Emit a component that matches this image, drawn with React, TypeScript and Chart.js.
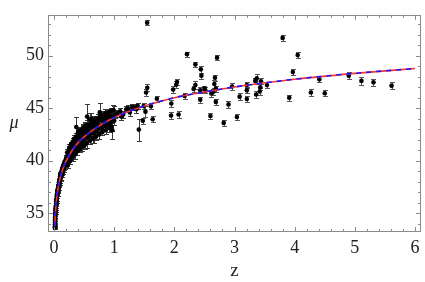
import { useEffect, useRef } from "react";
import { Chart, registerables } from "chart.js";

Chart.register(...registerables);

// model curve
const modelZ = [0.013, 0.02, 0.03, 0.05, 0.07, 0.1, 0.15, 0.2, 0.3, 0.4, 0.5, 0.7, 1.0, 1.5, 2.0, 2.5, 3.0, 4.0, 5.0, 6.0];
const modelMu = [33.74, 34.68, 35.56, 36.68, 37.43, 38.31, 39.26, 39.96, 40.97, 41.72, 42.26, 43.12, 44.1, 45.2, 46.0, 46.54, 47.02, 47.76, 48.32, 48.78];

// supernovae, low z
const sneZLow = [0.012, 0.014, 0.015, 0.016, 0.017, 0.019, 0.02, 0.021, 0.023, 0.024, 0.026, 0.027, 0.029, 0.03, 0.032, 0.034, 0.036, 0.038, 0.04, 0.043, 0.045, 0.048, 0.05, 0.053, 0.055, 0.058, 0.06, 0.063, 0.066, 0.07, 0.073, 0.076, 0.08, 0.084, 0.088, 0.092, 0.096, 0.1, 0.1];
const sneMuLow = [33.6, 33.9, 33.7, 34.3, 34.1, 34.6, 34.4, 34.9, 35.0, 35.3, 35.1, 35.5, 35.3, 35.7, 35.6, 35.9, 36.1, 35.9, 36.3, 36.2, 36.6, 36.4, 36.8, 36.9, 37.1, 36.8, 37.2, 37.3, 37.1, 37.5, 37.6, 37.4, 37.9, 37.7, 38.1, 37.9, 38.3, 38.1, 38.5];
const sneErrLow = [0.15, 0.2, 0.15, 0.2, 0.15, 0.2, 0.15, 0.2, 0.15, 0.2, 0.15, 0.2, 0.15, 0.2, 0.15, 0.2, 0.15, 0.2, 0.15, 0.2, 0.15, 0.2, 0.15, 0.2, 0.15, 0.2, 0.15, 0.2, 0.15, 0.2, 0.15, 0.2, 0.15, 0.2, 0.15, 0.2, 0.15, 0.2, 0.15];

// supernovae, 0.1 - 0.5
const sneZMid = [0.105, 0.11, 0.115, 0.12, 0.125, 0.13, 0.135, 0.14, 0.145, 0.15, 0.155, 0.16, 0.165, 0.17, 0.175, 0.18, 0.185, 0.19, 0.195, 0.2, 0.205, 0.21, 0.215, 0.22, 0.23, 0.235, 0.24, 0.25, 0.255, 0.26, 0.27, 0.275, 0.28, 0.29, 0.3, 0.305, 0.31, 0.32, 0.33, 0.335, 0.34, 0.35, 0.36, 0.365, 0.37, 0.38, 0.39, 0.4, 0.41, 0.42, 0.43, 0.44, 0.45, 0.46, 0.47, 0.48, 0.49, 0.5];
const sneMuMid = [38.7, 38.3, 38.8, 38.5, 39.0, 38.7, 39.2, 38.9, 39.4, 39.0, 39.5, 39.2, 39.7, 39.4, 39.9, 39.5, 39.9, 39.6, 40.1, 39.8, 40.3, 39.8, 40.3, 40.0, 40.6, 40.1, 40.7, 40.2, 40.8, 40.4, 40.9, 40.5, 41.1, 40.6, 41.3, 40.8, 41.4, 40.9, 41.6, 41.0, 41.5, 41.1, 41.9, 41.2, 41.8, 41.3, 42.1, 41.4, 42.2, 41.6, 42.3, 41.7, 42.5, 41.8, 42.4, 41.9, 42.6, 42.0];
const sneErrMid = [0.2, 0.25, 0.2, 0.3, 0.2, 0.25, 0.2, 0.3, 0.2, 0.25, 0.2, 0.3, 0.2, 0.25, 0.2, 0.3, 0.2, 0.25, 0.2, 0.3, 0.25, 0.3, 0.25, 0.3, 0.25, 0.3, 0.25, 0.3, 0.25, 0.3, 0.25, 0.3, 0.25, 0.3, 0.25, 0.35, 0.25, 0.35, 0.25, 0.35, 0.25, 0.35, 0.3, 0.35, 0.3, 0.35, 0.3, 0.35, 0.3, 0.35, 0.3, 0.35, 0.3, 0.4, 0.3, 0.4, 0.3, 0.4];

// supernovae, 0.5 - 1.0
const sneZHigh = [0.51, 0.52, 0.53, 0.54, 0.55, 0.56, 0.57, 0.58, 0.59, 0.6, 0.61, 0.62, 0.63, 0.64, 0.65, 0.66, 0.67, 0.68, 0.69, 0.7, 0.71, 0.72, 0.73, 0.74, 0.75, 0.77, 0.78, 0.8, 0.81, 0.82, 0.84, 0.85, 0.87, 0.88, 0.9, 0.92, 0.93, 0.95, 0.98, 1.0, 1.02];
const sneMuHigh = [42.6, 42.1, 42.9, 42.3, 42.8, 42.2, 43.0, 42.5, 43.2, 42.4, 43.1, 42.6, 43.3, 42.7, 43.4, 42.6, 43.3, 42.9, 43.6, 42.8, 43.5, 43.0, 43.7, 43.1, 43.8, 43.2, 43.9, 43.1, 43.8, 43.4, 44.0, 43.3, 44.1, 43.5, 44.3, 43.5, 44.2, 43.7, 44.3, 43.8, 44.4];
const sneErrHigh = [0.3, 0.35, 0.3, 0.4, 0.3, 0.35, 0.3, 0.4, 0.3, 0.35, 0.3, 0.4, 0.3, 0.35, 0.3, 0.4, 0.3, 0.35, 0.3, 0.4, 0.3, 0.35, 0.3, 0.4, 0.3, 0.35, 0.3, 0.4, 0.3, 0.35, 0.3, 0.4, 0.3, 0.35, 0.3, 0.4, 0.3, 0.35, 0.3, 0.4, 0.3];

// supernovae, outer edges of the band (0.2 - 1.0)
const sneZWide = [0.22, 0.25, 0.28, 0.31, 0.34, 0.37, 0.4, 0.43, 0.46, 0.49, 0.52, 0.55, 0.58, 0.61, 0.64, 0.67, 0.7, 0.73, 0.76, 0.79, 0.82, 0.86, 0.9, 0.94, 0.99, 0.23, 0.27, 0.31, 0.35, 0.39, 0.43, 0.47, 0.51, 0.55, 0.6, 0.65, 0.7, 0.75, 0.8, 0.86, 0.92, 0.96];
const sneMuWide = [40.8, 41.2, 41.5, 41.8, 42.1, 42.3, 42.5, 42.7, 42.9, 43.0, 43.2, 43.4, 43.4, 43.6, 43.8, 43.8, 44.0, 44.0, 44.2, 44.3, 44.3, 44.5, 44.6, 44.7, 44.8, 39.6, 40.0, 40.3, 40.6, 40.9, 41.1, 41.3, 41.5, 41.7, 41.9, 42.1, 42.3, 42.5, 42.7, 42.9, 43.1, 43.2];
const sneErrWide = [0.3, 0.35, 0.3, 0.4, 0.35, 0.3, 0.4, 0.35, 0.3, 0.4, 0.35, 0.45, 0.3, 0.4, 0.35, 0.45, 0.3, 0.4, 0.35, 0.45, 0.3, 0.4, 0.35, 0.3, 0.4, 0.3, 0.35, 0.3, 0.4, 0.35, 0.3, 0.4, 0.35, 0.45, 0.3, 0.4, 0.35, 0.45, 0.3, 0.4, 0.35, 0.4];

// supernovae, z > 1 and outliers
const sneZOut = [1.05, 1.1, 1.12, 1.15, 1.2, 1.23, 1.26, 1.3, 1.33, 1.37, 1.39, 0.37, 0.55, 0.59, 0.76, 0.98, 0.97, 1.41, 0.62, 0.85, 0.45, 0.5, 0.42, 0.66, 0.72, 0.33, 0.28, 0.4, 0.44, 0.48, 0.52];
const sneMuOut = [44.5, 44.7, 44.2, 44.4, 44.9, 45.0, 44.6, 45.1, 45.1, 44.9, 45.2, 43.2, 44.2, 43.9, 44.6, 44.8, 42.9, 42.96, 44.0, 44.5, 41.3, 41.5, 42.8, 42.1, 43.6, 41.9, 41.5, 42.7, 42.9, 43.1, 43.3];
const sneErrOut = [0.3, 0.3, 0.35, 0.3, 0.3, 0.35, 0.3, 0.3, 0.3, 0.35, 0.3, 1.0, 1.2, 0.6, 0.85, 0.5, 0.8, 1.05, 0.5, 0.4, 0.4, 0.4, 0.35, 0.4, 0.3, 0.35, 0.3, 0.35, 0.35, 0.35, 0.35];

// gamma-ray bursts
const grbZ = [1.548, 1.476, 1.52, 1.49, 1.53, 1.55, 1.61, 1.64, 1.71, 1.95, 1.945, 1.98, 2.03, 2.045, 2.07, 2.17, 2.21, 2.32, 2.35, 2.35, 2.43, 2.44, 2.45, 2.43, 2.5, 2.515, 2.6, 2.615, 2.65, 2.665, 2.675, 2.69, 2.69, 2.71, 2.82, 2.9, 2.96, 3.04, 3.085, 3.205, 3.205, 3.205, 3.345, 3.36, 3.37, 3.43, 3.42, 3.44, 3.54, 3.8, 3.91, 3.97, 4.05, 4.27, 4.41, 4.5, 4.9, 5.11, 5.31, 5.61];
const grbMu = [53.14, 43.8, 44.67, 45.2, 46.5, 46.95, 45.18, 43.95, 45.9, 45.45, 44.31, 46.77, 47.24, 47.5, 44.4, 46.16, 50.15, 46.83, 47.2, 49.16, 46.7, 48.7, 48.1, 45.8, 46.86, 46.7, 44.25, 46.4, 46.56, 47.3, 47.9, 46.86, 45.6, 49.8, 43.6, 45.36, 47.06, 44.16, 46.1, 45.87, 46.7, 47.2, 47.6, 46.3, 47.84, 47.0, 46.6, 47.57, 47.2, 51.7, 46.0, 48.44, 50.06, 46.5, 47.75, 46.43, 48.1, 47.6, 47.46, 47.15];
const grbErr = [0.25, 0.3, 0.5, 0.3, 0.35, 0.35, 0.3, 0.3, 0.3, 0.3, 0.3, 0.3, 0.35, 0.3, 0.35, 0.3, 0.25, 0.3, 0.35, 0.25, 0.3, 0.3, 0.3, 0.3, 0.3, 0.3, 0.3, 0.3, 0.3, 0.35, 0.3, 0.3, 0.3, 0.25, 0.3, 0.3, 0.3, 0.3, 0.3, 0.3, 0.3, 0.3, 0.3, 0.3, 0.4, 0.3, 0.3, 0.3, 0.3, 0.25, 0.3, 0.3, 0.25, 0.3, 0.3, 0.3, 0.35, 0.35, 0.3, 0.3];

const xTicks = [0, 1, 2, 3, 4, 5, 6];
const yTicks = [35, 40, 45, 50];

const FONT = "'Liberation Serif', 'Times New Roman', serif";
const FRAME = "#8a8a8a";

const errorBars = {
  id: "errorBars",
  beforeDatasetsDraw(chart: any) {
    const { ctx, chartArea, scales } = chart;
    ctx.save();
    ctx.beginPath();
    ctx.rect(chartArea.left, chartArea.top, chartArea.right - chartArea.left, chartArea.bottom - chartArea.top);
    ctx.clip();
    chart.data.datasets.forEach((ds: any) => {
      if (!ds.errors) return;
      ctx.strokeStyle = ds.errorColor;
      ctx.lineWidth = 1;
      ds.data.forEach((p: any, i: number) => {
        const e = ds.errors[i];
        const x = Math.round(scales.x.getPixelForValue(p.x)) + 0.5;
        const y1 = Math.round(scales.y.getPixelForValue(p.y + e)) + 0.5;
        const y2 = Math.round(scales.y.getPixelForValue(p.y - e)) + 0.5;
        ctx.beginPath();
        ctx.moveTo(x, y1);
        ctx.lineTo(x, y2);
        ctx.moveTo(x - 2.5, y1);
        ctx.lineTo(x + 2.5, y1);
        ctx.moveTo(x - 2.5, y2);
        ctx.lineTo(x + 2.5, y2);
        ctx.stroke();
      });
    });
    ctx.restore();
  },
};

const frame = {
  id: "frame",
  afterDraw(chart: any) {
    const { ctx, chartArea, scales } = chart;
    const { left, right, top, bottom } = chartArea;
    ctx.save();
    ctx.strokeStyle = FRAME;
    ctx.lineWidth = 1;
    ctx.strokeRect(Math.round(left) + 0.5, Math.round(top) + 0.5, Math.round(right - left) - 1, Math.round(bottom - top) - 1);
    ctx.beginPath();
    for (let k = 0; k <= 30; k++) {
      const v = k / 5;
      const x = Math.round(scales.x.getPixelForValue(v)) + 0.5;
      const len = k % 5 === 0 ? 5 : 3;
      ctx.moveTo(x, bottom);
      ctx.lineTo(x, bottom - len);
      ctx.moveTo(x, top);
      ctx.lineTo(x, top + len);
    }
    for (let v = 34; v <= 53; v++) {
      const y = Math.round(scales.y.getPixelForValue(v)) + 0.5;
      const len = v % 5 === 0 ? 5 : 3;
      ctx.moveTo(left, y);
      ctx.lineTo(left + len, y);
      ctx.moveTo(right, y);
      ctx.lineTo(right - len, y);
    }
    ctx.stroke();
    ctx.fillStyle = "#222";
    ctx.textAlign = "center";
    ctx.textBaseline = "middle";
    ctx.font = `italic 18px ${FONT}`;
    ctx.fillText("μ", 14, (top + bottom) / 2);
    ctx.font = `19px ${FONT}`;
    ctx.fillText("z", (left + right) / 2, 271);
    ctx.restore();
  },
};

export default function App() {
  const ref = useRef<HTMLCanvasElement>(null);
  useEffect(() => {
    document.body.style.margin = "0";
    const sneZ = [...sneZLow, ...sneZMid, ...sneZHigh, ...sneZWide, ...sneZOut];
    const sneMu = [...sneMuLow, ...sneMuMid, ...sneMuHigh, ...sneMuWide, ...sneMuOut];
    const sneErr = [...sneErrLow, ...sneErrMid, ...sneErrHigh, ...sneErrWide, ...sneErrOut];
    const model = modelZ.map((z, i) => ({ x: z, y: modelMu[i] }));
    const chart = new Chart(ref.current!, {
      type: "scatter",
      data: {
        datasets: [
          {
            label: "model",
            type: "line",
            data: model,
            borderColor: "#ff3030",
            borderWidth: 1.6,
            pointRadius: 0,
            cubicInterpolationMode: "monotone",
            order: 2,
          } as any,
          {
            label: "model2",
            type: "line",
            data: model,
            borderColor: "#1a1aff",
            borderWidth: 1.6,
            borderDash: [5, 5],
            pointRadius: 0,
            cubicInterpolationMode: "monotone",
            order: 1,
          } as any,
          {
            label: "SNe",
            data: sneZ.map((z, i) => ({ x: z, y: sneMu[i] })),
            errors: sneErr,
            errorColor: "#3a3a3a",
            backgroundColor: "#000",
            borderWidth: 0,
            pointRadius: 2.3,
            order: 3,
          } as any,
          {
            label: "GRB",
            data: grbZ.map((z, i) => ({ x: z, y: grbMu[i] })),
            errors: grbErr,
            errorColor: "#555",
            backgroundColor: "#000",
            borderWidth: 0,
            pointRadius: 2.3,
            order: 3,
          } as any,
        ],
      },
      options: {
        animation: false,
        responsive: false,
        maintainAspectRatio: false,
        layout: { padding: { top: 2, right: 2, left: 0, bottom: 0 } },
        plugins: { legend: { display: false }, tooltip: { enabled: false } },
        scales: {
          x: {
            type: "linear",
            min: -0.1,
            max: 6.1,
            afterBuildTicks: (s: any) => {
              s.ticks = xTicks.map((v) => ({ value: v }));
            },
            afterFit: (s: any) => {
              s.height = 50;
            },
            grid: { display: false, drawTicks: false },
            border: { display: false },
            ticks: { font: { family: FONT, size: 18 }, color: "#222", padding: 5, maxRotation: 0, autoSkip: false },
          },
          y: {
            type: "linear",
            min: 33.2,
            max: 53.9,
            afterBuildTicks: (s: any) => {
              s.ticks = yTicks.map((v) => ({ value: v }));
            },
            afterFit: (s: any) => {
              s.width = 48;
            },
            grid: { display: false, drawTicks: false },
            border: { display: false },
            ticks: { font: { family: FONT, size: 18 }, color: "#222", padding: 4, autoSkip: false },
          },
        },
      } as any,
      plugins: [errorBars, frame],
    });
    return () => chart.destroy();
  }, []);
  return <canvas ref={ref} width={425} height={282} style={{ display: "block" }} />;
}
